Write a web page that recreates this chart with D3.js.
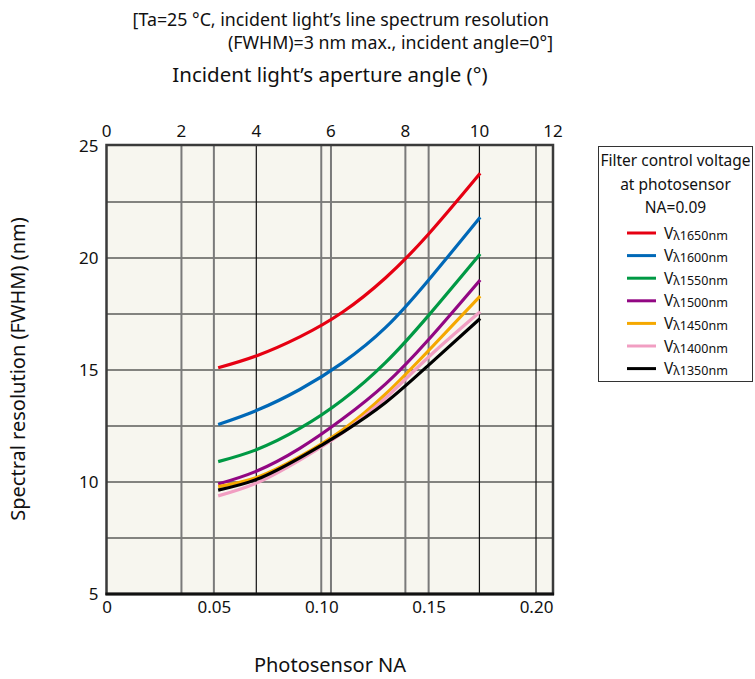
<!DOCTYPE html>
<html>
<head>
<meta charset="utf-8">
<script src="https://cdn.jsdelivr.net/npm/d3@7"></script>
<style>
  html, body { margin: 0; padding: 0; background: #ffffff; }
  svg { display: block; }
  text { font-family: "Noto Sans", "DejaVu Sans", sans-serif; fill: #111; }
</style>
</head>
<body>
<svg id="chart" width="755" height="679"></svg>
<script>
// ---------------- DATA ----------------
const naValues = [0.052, 0.07, 0.09, 0.11, 0.13, 0.15, 0.174];
const seriesNames = ["1650nm", "1600nm", "1550nm", "1500nm", "1450nm", "1400nm", "1350nm"];
const v1650 = [15.10, 15.64, 16.48, 17.59, 19.12, 21.07, 23.78];
const v1600 = [12.57, 13.20, 14.13, 15.33, 16.90, 19.02, 21.82];
const v1550 = [10.91, 11.45, 12.39, 13.67, 15.34, 17.44, 20.18];
const v1500 = [9.91, 10.49, 11.50, 12.82, 14.38, 16.36, 19.02];
const v1450 = [9.79, 10.20, 11.13, 12.33, 13.93, 15.87, 18.30];
const v1400 = [9.38, 9.96, 10.98, 12.20, 13.75, 15.58, 17.60];
const v1350 = [9.64, 10.12, 11.08, 12.22, 13.55, 15.22, 17.30];
const seriesValues = [v1650, v1600, v1550, v1500, v1450, v1400, v1350];
const naTicks = [0, 0.05, 0.10, 0.15, 0.20];
const naTickLabels = ["0", "0.05", "0.10", "0.15", "0.20"];
const angleTicks = [0, 2, 4, 6, 8, 10, 12];
const yTicks = [5, 10, 15, 20, 25];
const yGridMinor = [7.5, 12.5, 17.5, 22.5];
const legendTitle = ["Filter control voltage", "at photosensor", "NA=0.09"];
const subtitle1 = "[Ta=25 °C, incident light’s line spectrum resolution";
const subtitle2 = "(FWHM)=3 nm max., incident angle=0°]";
const topTitle = "Incident light’s aperture angle (°)";
const xTitle = "Photosensor NA";
const yTitle = "Spectral resolution (FWHM) (nm)";

// ---------------- STYLE ----------------
const colors = ["#e60012", "#0068b7", "#009944", "#920783", "#f5a800", "#f19ec2", "#000000"];
const drawOrder = [0, 1, 2, 3, 4, 5, 6];
const L = 106.5, R = 553, T = 146, B = 594;

const svg = d3.select("#chart");
const x = d3.scaleLinear().domain([0, Math.sin(12 * Math.PI / 180)]).range([L, R]);
const y = d3.scaleLinear().domain([5, 25]).range([B, T]);
const angleX = deg => x(Math.sin(deg * Math.PI / 180));

// plot background
svg.append("rect").attr("x", L).attr("y", T).attr("width", R - L).attr("height", B - T)
  .attr("fill", "#f7f6ef");

// horizontal grid
const gGrid = svg.append("g");
gGrid.selectAll("line.h").data(yGridMinor.concat(yTicks.slice(1, -1))).enter().append("line")
  .attr("x1", L).attr("x2", R).attr("y1", d => y(d)).attr("y2", d => y(d))
  .attr("stroke", "#111").attr("stroke-width", 1.2);

// vertical grid
const naGridStyle = ["", "grey", "grey", "grey", "black"];
const angleGridStyle = { 2: "grey", 4: "black", 6: "grey", 8: "grey", 10: "black" };
function vline(px, kind) {
  gGrid.append("line").attr("x1", px).attr("x2", px).attr("y1", T).attr("y2", B)
    .attr("stroke", kind === "grey" ? "#7a7a7a" : "#111")
    .attr("stroke-width", kind === "grey" ? 2 : 1.2);
}
naTicks.forEach((d, i) => { if (i > 0) vline(x(d), naGridStyle[i]); });
angleTicks.slice(1, -1).forEach(d => vline(angleX(d), angleGridStyle[d]));

// curves
const line = d3.line().x(d => x(d[0])).y(d => y(d[1])).curve(d3.curveNatural);
drawOrder.forEach(i => {
  const pts = naValues.map((n, j) => [n, seriesValues[i][j]]);
  svg.append("path").attr("d", line(pts)).attr("fill", "none")
    .attr("stroke", colors[i]).attr("stroke-width", 3.2).attr("stroke-linecap", "butt");
});

// plot border
svg.append("rect").attr("x", L).attr("y", T - 1).attr("width", R - L).attr("height", B - T + 1)
  .attr("fill", "none").attr("stroke", "#3a3a3a").attr("stroke-width", 2.5);
svg.append("line").attr("x1", L - 1).attr("x2", R + 1).attr("y1", B).attr("y2", B)
  .attr("stroke", "#111").attr("stroke-width", 3);

// bottom axis labels
const gx = svg.append("g").attr("transform", `translate(0,${B})`)
  .call(d3.axisBottom(x).tickValues(naTicks).tickFormat((d, i) => naTickLabels[i]).tickSize(0).tickPadding(7));
gx.select(".domain").remove();
gx.selectAll("text").style("font-size", "17px").style("font-family", "'Noto Sans', sans-serif").attr("fill", "#111");

// left axis labels
const gy = svg.append("g").attr("transform", `translate(${L},0)`)
  .call(d3.axisLeft(y).tickValues(yTicks).tickFormat(d3.format("d")).tickSize(0).tickPadding(8));
gy.select(".domain").remove();
gy.selectAll("text").style("font-size", "17px").style("font-family", "'Noto Sans', sans-serif").attr("fill", "#111");

// top axis (aperture angle)
svg.append("g").selectAll("text").data(angleTicks).enter().append("text")
  .attr("x", d => angleX(d)).attr("y", T - 9).attr("text-anchor", "middle")
  .style("font-size", "17px").text(d => d);

// titles
svg.append("text").attr("x", 549).attr("y", 26).attr("text-anchor", "end")
  .style("font-size", "17.8px").text(subtitle1);
svg.append("text").attr("x", 553).attr("y", 49).attr("text-anchor", "end")
  .style("font-size", "17.8px").text(subtitle2);
svg.append("text").attr("x", 330).attr("y", 82).attr("text-anchor", "middle")
  .style("font-size", "20.5px").text(topTitle);
svg.append("text").attr("x", 330).attr("y", 672).attr("text-anchor", "middle")
  .style("font-size", "20px").text(xTitle);
svg.append("text").attr("transform", "translate(25,369) rotate(-90)").attr("text-anchor", "middle")
  .style("font-size", "20px").text(yTitle);

// legend
const lg = svg.append("g");
lg.append("rect").attr("x", 598.5).attr("y", 146.5).attr("width", 154).attr("height", 235)
  .attr("fill", "#fff").attr("stroke", "#333").attr("stroke-width", 1);
legendTitle.forEach((t, i) => {
  lg.append("text").attr("x", 675.5).attr("y", 166 + i * 23.5).attr("text-anchor", "middle")
    .style("font-size", "15.5px").text(t);
});
seriesNames.forEach((n, i) => {
  const yy = 233 + i * 22.6;
  lg.append("line").attr("x1", 627).attr("x2", 656).attr("y1", yy).attr("y2", yy)
    .attr("stroke", colors[i]).attr("stroke-width", 3);
  const t = lg.append("text").attr("x", 664).attr("y", yy + 5.5).style("font-size", "15.5px");
  t.append("tspan").text("V");
  t.append("tspan").style("font-size", "12.5px").attr("dy", 1).text("λ" + n);
});
</script>
</body>
</html>
